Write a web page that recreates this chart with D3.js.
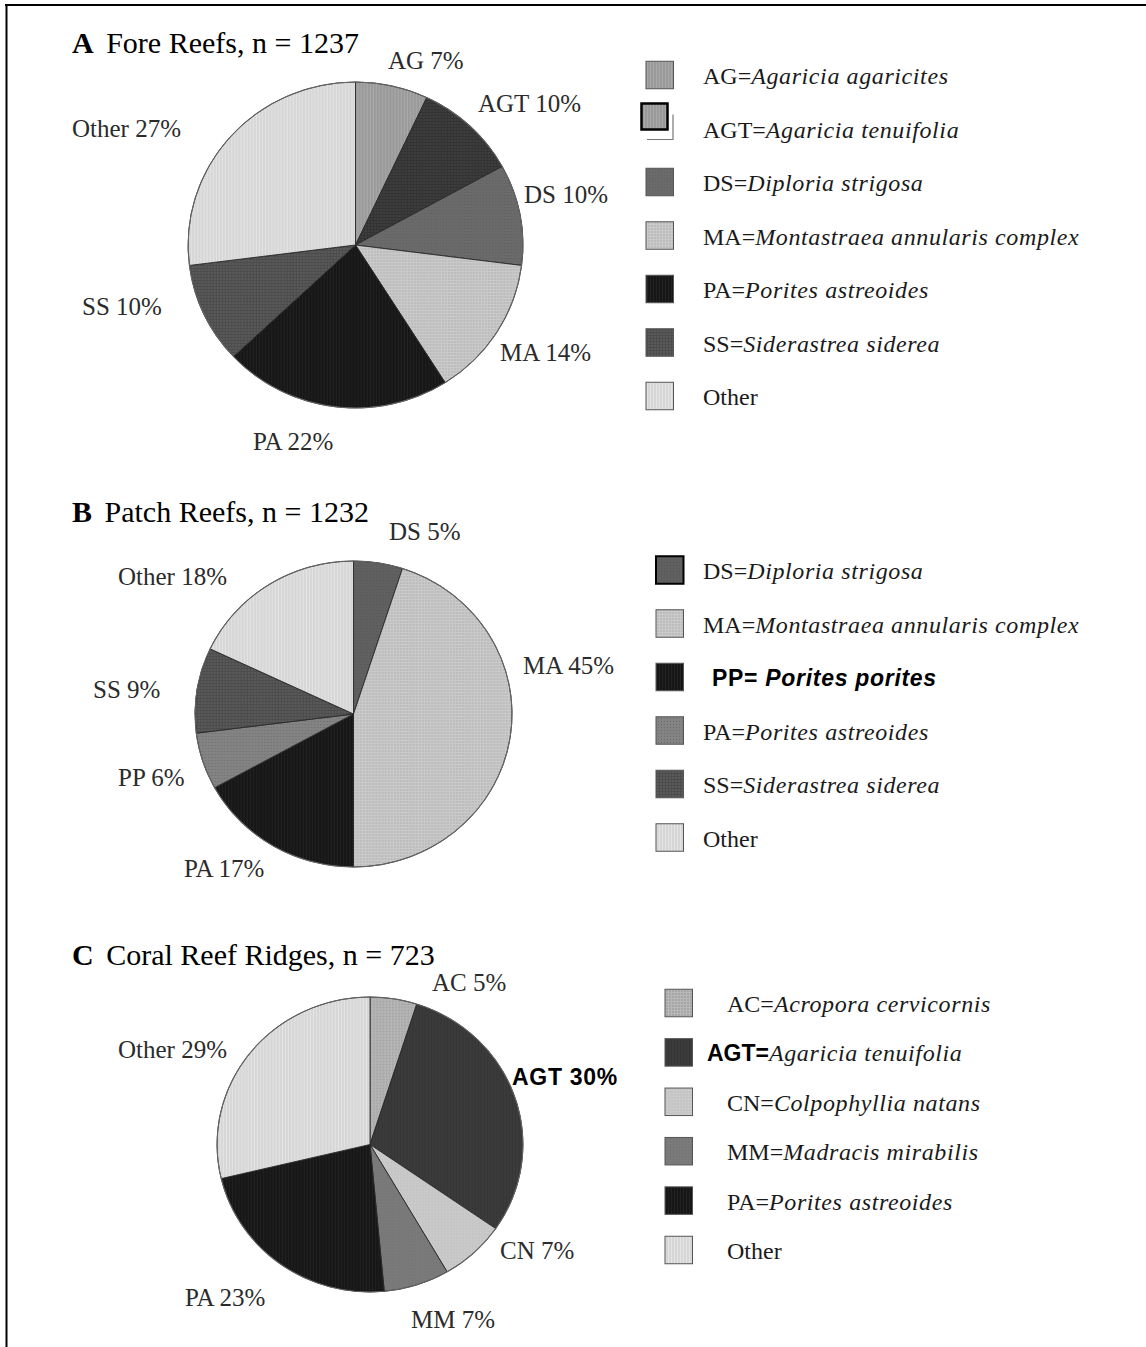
<!DOCTYPE html>
<html><head><meta charset="utf-8">
<script src="https://cdn.jsdelivr.net/npm/d3@7"></script>
<style>body{margin:0;background:#fff}svg{display:block}</style></head>
<body>
<script>
// ---------- DATA ----------
const foreCats = ["AG","AGT","DS","MA","PA","SS","Other"];
const foreVals = [7,10,10,14,22,10,27];
const foreLegendAbbr = ["AG","AGT","DS","MA","PA","SS","Other"];
const foreLegendNames = ["Agaricia agaricites","Agaricia tenuifolia","Diploria strigosa","Montastraea annularis complex","Porites astreoides","Siderastrea siderea",""];

const patchCats = ["DS","MA","PA","PP","SS","Other"];
const patchVals = [5,45,17,6,9,18];
const patchLegendAbbr = ["DS","MA","PP","PA","SS","Other"];
const patchLegendNames = ["Diploria strigosa","Montastraea annularis complex","Porites porites","Porites astreoides","Siderastrea siderea",""];

const ridgeCats = ["AC","AGT","CN","MM","PA","Other"];
const ridgeVals = [5,30,7,7,23,29];
const ridgeLegendAbbr = ["AC","AGT","CN","MM","PA","Other"];
const ridgeLegendNames = ["Acropora cervicornis","Agaricia tenuifolia","Colpophyllia natans","Madracis mirabilis","Porites astreoides",""];

const titles = [["A","Fore Reefs, n = 1237"],["B","Patch Reefs, n = 1232"],["C","Coral Reef Ridges, n = 723"]];

// ---------- STYLES / LAYOUT ----------
const W = 1146, H = 1347;
const svg = d3.select("body").append("svg").attr("width", W).attr("height", H);
svg.append("rect").attr("width", W).attr("height", H).attr("fill", "#fff");
const defs = svg.append("defs");

function pat(id, base, ink, type) {
  const p = defs.append("pattern").attr("id", id).attr("patternUnits", "userSpaceOnUse")
    .attr("width", 3).attr("height", 3);
  p.append("rect").attr("width", 3).attr("height", 3).attr("fill", base);
  if (type === "v") p.append("rect").attr("x", 2).attr("width", 1).attr("height", 3).attr("fill", ink);
  if (type === "g") { p.append("rect").attr("x", 2).attr("width", 1).attr("height", 3).attr("fill", ink);
                      p.append("rect").attr("y", 2).attr("width", 3).attr("height", 1).attr("fill", ink); }
  if (type === "d") p.append("rect").attr("x", 1).attr("y", 1).attr("width", 1).attr("height", 1).attr("fill", ink);
  return `url(#${id})`;
}
const F = {
  AG: pat("pAG", "#9a9a9a", "#a8a8a8", "v"),
  AGTa: pat("pAGTa", "#3e3e3e", "#333", "g"),
  DSa: pat("pDSa", "#6a6a6a", "#606060", "d"),
  MA: pat("pMA", "#bcbcbc", "#cacaca", "g"),
  PA: pat("pPA", "#161616", "#222", "v"),
  SS: pat("pSS", "#5a5a5a", "#4c4c4c", "g"),
  Other: pat("pOther", "#d6d6d6", "#e4e4e4", "v"),
  DSb: pat("pDSb", "#606060", "#555", "d"),
  PP: pat("pPP", "#838383", "#6e6e6e", "d"),
  AC: pat("pAC", "#a6a6a6", "#b8b8b8", "g"),
  AGTc: pat("pAGTc", "#3b3b3b", "#353535", "v"),
  CN: pat("pCN", "#c6c6c6", "#d4d4d4", "d"),
  MM: pat("pMM", "#7a7a7a", "#707070", "d")
};

const panels = [
  { cats: foreCats, vals: foreVals, cx: 355.5, cy: 245, r: 163, sx: 1.027,
    fill: {AG:F.AG, AGT:F.AGTa, DS:F.DSa, MA:F.MA, PA:F.PA, SS:F.SS, Other:F.Other},
    legAbbr: foreLegendAbbr, legNames: foreLegendNames,
    legFill: {AG:F.AG, AGT:F.AG, DS:F.DSa, MA:F.MA, PA:F.PA, SS:F.SS, Other:F.Other},
    legX: 646, legY0: 75, legDy: 53.5, textX: 703,
    titleY: 53,
    labels: [[388,69,"start"],[478,112,"start"],[524,203,"start"],[500,361,"start"],[253,450,"start"],[82,315,"start"],[72,137,"start"]],
    boldLabel: null },
  { cats: patchCats, vals: patchVals, cx: 353.5, cy: 714, r: 153, sx: 1.036,
    fill: {DS:F.DSb, MA:F.MA, PA:F.PA, PP:F.PP, SS:F.SS, Other:F.Other},
    legAbbr: patchLegendAbbr, legNames: patchLegendNames,
    legFill: {DS:F.DSb, MA:F.MA, PP:F.PA, PA:F.PP, SS:F.SS, Other:F.Other},
    legX: 656, legY0: 570, legDy: 53.5, textX: 703,
    titleY: 522,
    labels: [[389,540,"start"],[523,674,"start"],[184,877,"start"],[118,786,"start"],[93,698,"start"],[118,585,"start"]],
    boldLabel: null },
  { cats: ridgeCats, vals: ridgeVals, cx: 370, cy: 1144.5, r: 147.5, sx: 1.037,
    fill: {AC:F.AC, AGT:F.AGTc, CN:F.CN, MM:F.MM, PA:F.PA, Other:F.Other},
    legAbbr: ridgeLegendAbbr, legNames: ridgeLegendNames,
    legFill: {AC:F.AC, AGT:F.AGTc, CN:F.CN, MM:F.MM, PA:F.PA, Other:F.Other},
    legX: 665, legY0: 1003, legDy: 49.4, textX: 727,
    titleY: 965,
    labels: [[432,991,"start"],[512,1085,"start"],[500,1259,"start"],[411,1328,"start"],[185,1306,"start"],[118,1058,"start"]],
    boldLabel: "AGT" }
];

const serif = "'Liberation Serif','Times New Roman',serif";
const sans = "'Liberation Sans',Arial,sans-serif";

// frame
svg.append("line").attr("x1", 5).attr("x2", W).attr("y1", 5).attr("y2", 5).attr("stroke", "#000").attr("stroke-width", 2);
svg.append("line").attr("x1", 6.5).attr("x2", 6.5).attr("y1", 4).attr("y2", H).attr("stroke", "#000").attr("stroke-width", 2);

const pie = d3.pie().sort(null).value(d => d.v);

panels.forEach((P, pi) => {
  const data = P.cats.map((c, i) => ({ c, v: P.vals[i] }));
  const arc = d3.arc().innerRadius(0).outerRadius(P.r);
  const g = svg.append("g").attr("transform", `translate(${P.cx},${P.cy}) scale(${P.sx},1)`);
  g.selectAll("path").data(pie(data)).join("path")
    .attr("d", arc)
    .attr("fill", d => P.fill[d.data.c])
    .attr("stroke", "#2a2a2a").attr("stroke-width", 0.9)
    .attr("stroke-linejoin", "round");
  g.append("circle").attr("r", P.r).attr("fill", "none").attr("stroke", "#666").attr("stroke-width", 1);

  // title
  const t = svg.append("text").attr("x", 72).attr("y", P.titleY)
    .attr("font-family", serif).attr("font-size", 30).attr("fill", "#000");
  t.append("tspan").attr("font-weight", "bold").text(titles[pi][0]);
  t.append("tspan").attr("dx", 5).text(" " + titles[pi][1]);

  // slice labels
  data.forEach((d, i) => {
    const [lx, ly, anc] = P.labels[i];
    const bold = P.boldLabel === d.c;
    svg.append("text").attr("x", lx).attr("y", ly).attr("text-anchor", anc)
      .attr("font-family", bold ? sans : serif)
      .attr("font-weight", bold ? "bold" : "normal")
      .attr("font-size", bold ? 23 : 25)
      .attr("letter-spacing", bold ? 0.7 : 0)
      .attr("fill", bold ? "#000" : "#2b2b2b")
      .text(`${d.c} ${d.v}%`);
  });

  // legend
  P.legAbbr.forEach((a, i) => {
    const cy = P.legY0 + i * P.legDy;
    const sw = 27.5, sh = 27.5;
    if (pi === 0 && a === "AGT") {
      svg.append("rect").attr("x", 641.5).attr("y", cy - 25).attr("width", 26).attr("height", 26)
        .attr("fill", P.legFill[a]).attr("stroke", "#000").attr("stroke-width", 2.5);
      svg.append("path").attr("d", `M${647},${cy + 11} H${673} V${cy - 14}`)
        .attr("fill", "none").attr("stroke", "#777").attr("stroke-width", 1.2);
    } else {
      const heavy = (pi === 1 && a === "DS");
      svg.append("rect").attr("x", P.legX).attr("y", cy - sh / 2).attr("width", sw).attr("height", sh)
        .attr("fill", P.legFill[a]).attr("stroke", heavy ? "#000" : "#555").attr("stroke-width", heavy ? 2 : 1);
    }
    const name = P.legNames[i];
    const isPP = (pi === 1 && a === "PP");
    const isAGTc = (pi === 2 && a === "AGT");
    const tx = svg.append("text").attr("y", cy + 9).attr("font-size", 24).attr("fill", "#1a1a1a")
      .attr("font-family", serif);
    if (isPP) {
      tx.attr("x", P.textX + 9).attr("font-family", sans).attr("font-weight", "bold").attr("font-size", 23)
        .attr("letter-spacing", 0.7).attr("fill", "#000");
      tx.append("tspan").text(a + "= ");
      tx.append("tspan").attr("font-style", "italic").text(name);
    } else if (isAGTc) {
      tx.attr("x", 707);
      tx.append("tspan").attr("font-family", sans).attr("font-weight", "bold").attr("font-size", 23).attr("fill", "#000").text(a + "=");
      tx.append("tspan").attr("font-style", "italic").attr("letter-spacing", 0.6).text(name);
    } else if (name) {
      tx.attr("x", P.textX);
      tx.append("tspan").text(a + "=");
      tx.append("tspan").attr("font-style", "italic").attr("letter-spacing", 0.6).text(name);
    } else {
      tx.attr("x", P.textX).text(a);
    }
  });
});
</script>
</body></html>
